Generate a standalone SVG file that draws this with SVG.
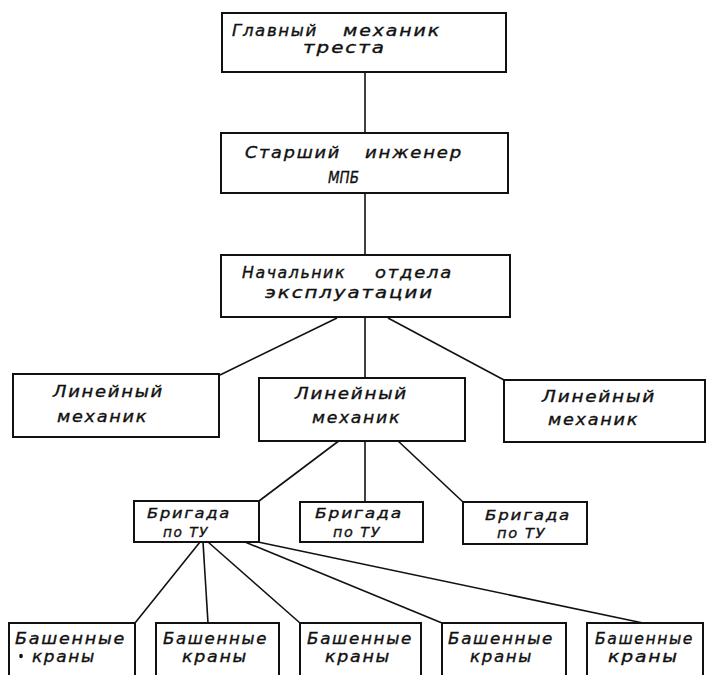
<svg xmlns="http://www.w3.org/2000/svg" width="707" height="675" viewBox="0 0 707 675">
<style>
.box{fill:#fff;stroke:#111;stroke-width:2}
.c{stroke:#111;stroke-width:1.6;fill:none}
text{font-family:"DejaVu Sans","Liberation Sans",sans-serif;font-style:italic;fill:#111;stroke:#111;stroke-width:0.35;letter-spacing:1.5px}
.t1{font-size:15px}
.t2{font-size:15.5px}
.t3{font-size:14px}
.t4{font-size:15px}
</style>
<rect width="707" height="675" fill="#fff"/>
<g id="connectors">
<line class="c" x1="365" y1="72" x2="365" y2="133"/>
<line class="c" x1="365" y1="193" x2="365" y2="255"/>
<line class="c" x1="337" y1="318" x2="220" y2="375"/>
<line class="c" x1="365" y1="318" x2="365" y2="378"/>
<line class="c" x1="388" y1="318" x2="504" y2="380"/>
<line class="c" x1="340" y1="440" x2="259" y2="501"/>
<line class="c" x1="365" y1="440" x2="365" y2="502"/>
<line class="c" x1="397" y1="440" x2="463" y2="502"/>
<line class="c" x1="200" y1="542" x2="135" y2="623"/>
<line class="c" x1="203" y1="542" x2="208" y2="623"/>
<line class="c" x1="208" y1="542" x2="300" y2="623"/>
<line class="c" x1="245" y1="542" x2="442" y2="623"/>
<line class="c" x1="258" y1="542" x2="643" y2="623"/>
</g>
<g id="n1">
<rect class="box" x="222" y="13" width="284" height="59"/>
<text class="t1" y="36"><tspan x="232" textLength="86" lengthAdjust="spacingAndGlyphs">Главный</tspan> <tspan x="343" textLength="98" lengthAdjust="spacingAndGlyphs">механик</tspan></text>
<text class="t1" x="303" y="53" textLength="83" lengthAdjust="spacingAndGlyphs">треста</text>
</g>
<g id="n2">
<rect class="box" x="221" y="133" width="287" height="60"/>
<text class="t1" y="158"><tspan x="245" textLength="96" lengthAdjust="spacingAndGlyphs">Старший</tspan> <tspan x="365" textLength="98" lengthAdjust="spacingAndGlyphs">инженер</tspan></text>
<text class="t1" x="328" y="183" textLength="31" lengthAdjust="spacingAndGlyphs" style="letter-spacing:0">МПБ</text>
</g>
<g id="n3">
<rect class="box" x="221" y="255" width="289" height="62"/>
<text class="t1" y="278"><tspan x="242" textLength="104" lengthAdjust="spacingAndGlyphs">Начальник</tspan> <tspan x="375" textLength="78" lengthAdjust="spacingAndGlyphs">отдела</tspan></text>
<text class="t1" x="265" y="298" textLength="169" lengthAdjust="spacingAndGlyphs">эксплуатации</text>
</g>
<g id="n4">
<rect class="box" x="13" y="374" width="206" height="63"/>
<text class="t2" x="53" y="397" textLength="111" lengthAdjust="spacingAndGlyphs">Линейный</text>
<text class="t2" x="57" y="422" textLength="91" lengthAdjust="spacingAndGlyphs">механик</text>
</g>
<g id="n5">
<rect class="box" x="259" y="378" width="206" height="63"/>
<text class="t2" x="295" y="399" textLength="113" lengthAdjust="spacingAndGlyphs">Линейный</text>
<text class="t2" x="312" y="423" textLength="89" lengthAdjust="spacingAndGlyphs">механик</text>
</g>
<g id="n6">
<rect class="box" x="504" y="380" width="201" height="62"/>
<text class="t2" x="542" y="402" textLength="114" lengthAdjust="spacingAndGlyphs">Линейный</text>
<text class="t2" x="548" y="425" textLength="91" lengthAdjust="spacingAndGlyphs">механик</text>
</g>
<g id="n7">
<rect class="box" x="134" y="501" width="125" height="41"/>
<text class="t3" x="147" y="518" textLength="84" lengthAdjust="spacingAndGlyphs">Бригада</text>
<text class="t3" x="163" y="537" textLength="46" lengthAdjust="spacingAndGlyphs">по ТУ</text>
</g>
<g id="n8">
<rect class="box" x="300" y="502" width="123" height="40"/>
<text class="t3" x="315" y="518" textLength="88" lengthAdjust="spacingAndGlyphs">Бригада</text>
<text class="t3" x="333" y="537" textLength="48" lengthAdjust="spacingAndGlyphs">по ТУ</text>
</g>
<g id="n9">
<rect class="box" x="463" y="502" width="124" height="42"/>
<text class="t3" x="485" y="520" textLength="86" lengthAdjust="spacingAndGlyphs">Бригада</text>
<text class="t3" x="497" y="538" textLength="49" lengthAdjust="spacingAndGlyphs">по ТУ</text>
</g>
<g id="n10">
<rect class="box" x="9" y="623" width="126" height="60"/>
<text class="t4" x="15" y="644" textLength="111" lengthAdjust="spacingAndGlyphs">Башенные</text>
<text class="t4" x="32" y="662" textLength="64" lengthAdjust="spacingAndGlyphs">краны</text>
<ellipse cx="21" cy="656" rx="1.8" ry="2.2" fill="#111"/>
</g>
<g id="n11">
<rect class="box" x="156" y="623" width="123" height="60"/>
<text class="t4" x="163" y="644" textLength="105" lengthAdjust="spacingAndGlyphs">Башенные</text>
<text class="t4" x="182" y="662" textLength="66" lengthAdjust="spacingAndGlyphs">краны</text>
</g>
<g id="n12">
<rect class="box" x="300" y="623" width="121" height="60"/>
<text class="t4" x="307" y="644" textLength="106" lengthAdjust="spacingAndGlyphs">Башенные</text>
<text class="t4" x="325" y="662" textLength="66" lengthAdjust="spacingAndGlyphs">краны</text>
</g>
<g id="n13">
<rect class="box" x="442" y="623" width="124" height="60"/>
<text class="t4" x="448" y="644" textLength="106" lengthAdjust="spacingAndGlyphs">Башенные</text>
<text class="t4" x="470" y="662" textLength="63" lengthAdjust="spacingAndGlyphs">краны</text>
</g>
<g id="n14">
<rect class="box" x="587" y="623" width="116" height="60"/>
<text class="t4" x="595" y="644" textLength="99" lengthAdjust="spacingAndGlyphs">Башенные</text>
<text class="t4" x="608" y="662" textLength="71" lengthAdjust="spacingAndGlyphs">краны</text>
</g>
</svg>
